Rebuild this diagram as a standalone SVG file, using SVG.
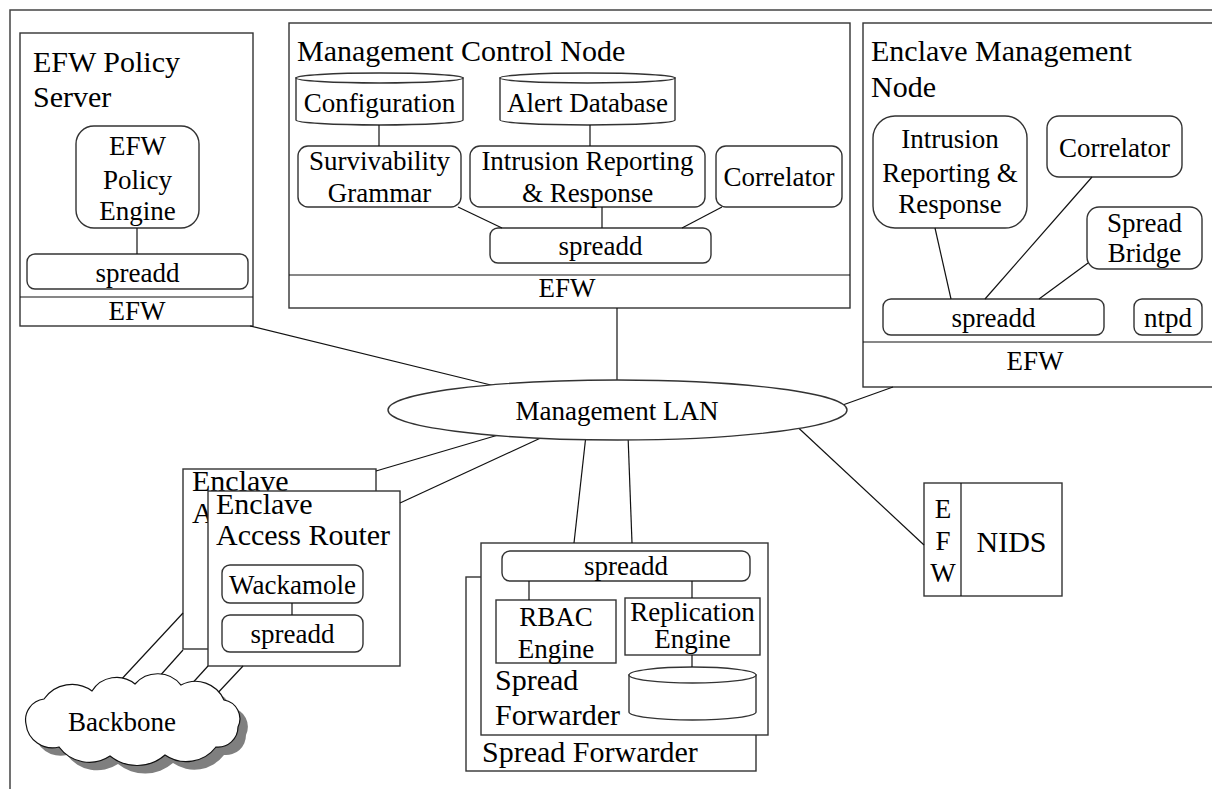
<svg xmlns="http://www.w3.org/2000/svg" width="1212" height="789" viewBox="0 0 1212 789" font-family="Liberation Serif, Times New Roman, serif">
<style>
.box{fill:#fff;stroke:#333;stroke-width:1.4}
.ln{stroke:#111;stroke-width:1.2;fill:none}
text{font-size:27px;fill:#000}
.tt{font-size:30px}
.c{text-anchor:middle}
</style>
<rect x="0" y="0" width="1212" height="789" fill="#fff"/>
<path d="M10,789 V10 H1212" fill="none" stroke="#444" stroke-width="1.5"/>

<g id="nodes">
<g id="efw-policy-server">
<rect class="box" x="20" y="33" width="233" height="293"/>
<line class="ln" x1="20" y1="297" x2="253" y2="297"/>
<text class="tt" x="33" y="72">EFW Policy</text>
<text class="tt" x="33" y="107">Server</text>
<text class="c" x="137" y="320">EFW</text>
</g>
<g id="efw-policy-engine">
<rect class="box" x="76" y="126" width="123" height="102" rx="18"/>
<text class="c" x="137.5" y="155">EFW</text>
<text class="c" x="137.5" y="189">Policy</text>
<text class="c" x="137.5" y="220">Engine</text>
</g>
<g id="eps-spreadd">
<rect class="box" x="27" y="254" width="221" height="35" rx="8"/>
<text class="c" x="137.5" y="282">spreadd</text>
</g>

<g id="management-control-node">
<rect class="box" x="289" y="23" width="561" height="285"/>
<line class="ln" x1="289" y1="275" x2="850" y2="275"/>
<text class="tt" x="297" y="61">Management Control Node</text>
<text class="c" x="567" y="297">EFW</text>
</g>
<g id="configuration">
<path class="box" d="M296,78 V120 A83.5,5 0 0 0 463,120 V78 Z"/>
<ellipse class="box" cx="379.5" cy="78" rx="83.5" ry="5"/>
<text class="c" x="379.5" y="112">Configuration</text>
</g>
<g id="alert-database">
<path class="box" d="M500,78 V120 A87.5,5 0 0 0 675,120 V78 Z"/>
<ellipse class="box" cx="587.5" cy="78" rx="87.5" ry="5"/>
<text class="c" x="587.5" y="112">Alert Database</text>
</g>
<g id="survivability-grammar">
<rect class="box" x="298" y="146" width="163" height="61" rx="10"/>
<text class="c" x="379.5" y="170">Survivability</text>
<text class="c" x="379.5" y="202">Grammar</text>
</g>
<g id="mcn-intrusion-reporting">
<rect class="box" x="470" y="146" width="235" height="61" rx="10"/>
<text class="c" x="587.5" y="170">Intrusion Reporting</text>
<text class="c" x="587.5" y="202">&amp; Response</text>
</g>
<g id="mcn-correlator">
<rect class="box" x="716" y="146" width="126" height="61" rx="10"/>
<text class="c" x="779" y="186">Correlator</text>
</g>
<g id="mcn-spreadd">
<rect class="box" x="490" y="228" width="221" height="35" rx="8"/>
<text class="c" x="600.5" y="255">spreadd</text>
</g>

<g id="enclave-management-node">
<rect class="box" x="863" y="23" width="360" height="364"/>
<line class="ln" x1="863" y1="342" x2="1212" y2="342"/>
<text class="tt" x="871" y="61">Enclave Management</text>
<text class="tt" x="871" y="97">Node</text>
<text class="c" x="1035" y="370">EFW</text>
</g>
<g id="emn-intrusion-reporting">
<rect class="box" x="873" y="116" width="154" height="112" rx="22"/>
<text class="c" x="950" y="148">Intrusion</text>
<text class="c" x="950" y="182">Reporting &amp;</text>
<text class="c" x="950" y="213">Response</text>
</g>
<g id="emn-correlator">
<rect class="box" x="1047" y="116" width="135" height="61" rx="12"/>
<text class="c" x="1114.5" y="157">Correlator</text>
</g>
<g id="spread-bridge">
<rect class="box" x="1087" y="207" width="115" height="62" rx="12"/>
<text class="c" x="1144.5" y="232">Spread</text>
<text class="c" x="1144.5" y="262">Bridge</text>
</g>
<g id="emn-spreadd">
<rect class="box" x="883" y="299" width="221" height="36" rx="8"/>
<text class="c" x="993.5" y="327">spreadd</text>
</g>
<g id="ntpd">
<rect class="box" x="1134" y="299" width="68" height="36" rx="8"/>
<text class="c" x="1168" y="327">ntpd</text>
</g>

<g id="enclave-access-router-back">
<rect class="box" x="183" y="469" width="193" height="180"/>
<text class="tt" x="192" y="491">Enclave</text>
<text class="tt" x="192" y="523">A</text>
</g>
<g id="enclave-access-router">
<rect class="box" x="208" y="491" width="192" height="175"/>
<text class="tt" x="216" y="514">Enclave</text>
<text class="tt" x="216" y="545">Access Router</text>
</g>
<g id="wackamole">
<rect class="box" x="222" y="565" width="141" height="38" rx="8"/>
<text class="c" x="292.5" y="594">Wackamole</text>
</g>
<g id="router-spreadd">
<rect class="box" x="222" y="615" width="141" height="37" rx="8"/>
<text class="c" x="292.5" y="643">spreadd</text>
</g>

<g id="spread-forwarder-back">
<rect class="box" x="466" y="577" width="290" height="194"/>
<text class="tt" x="482" y="762">Spread Forwarder</text>
</g>
<g id="spread-forwarder">
<rect class="box" x="481" y="543" width="287" height="192"/>
<text class="tt" x="495" y="690">Spread</text>
<text class="tt" x="495" y="725">Forwarder</text>
</g>
<g id="forwarder-spreadd">
<rect class="box" x="502" y="551" width="248" height="30" rx="8"/>
<text class="c" x="626" y="575">spreadd</text>
</g>
<g id="rbac-engine">
<rect class="box" x="496" y="600" width="120" height="63"/>
<text class="c" x="556" y="626">RBAC</text>
<text class="c" x="556" y="658">Engine</text>
</g>
<g id="replication-engine">
<rect class="box" x="625" y="598" width="135" height="57"/>
<text class="c" x="692.5" y="621">Replication</text>
<text class="c" x="692.5" y="648">Engine</text>
</g>
<g id="replication-db">
<path class="box" d="M629,675 V712 A63.5,8 0 0 0 756,712 V675 Z"/>
<ellipse class="box" cx="692.5" cy="675" rx="63.5" ry="8"/>
</g>

<g id="nids">
<rect class="box" x="924" y="483" width="138" height="113"/>
<line class="ln" x1="961" y1="483" x2="961" y2="596"/>
<text class="c" x="943" y="518">E</text>
<text class="c" x="943" y="550">F</text>
<text class="c" x="943" y="582">W</text>
<text class="tt c" x="1011.5" y="552">NIDS</text>
</g>
</g>

<g id="connectors" class="ln">
<line x1="137" y1="228" x2="137" y2="254"/>
<line x1="379" y1="125" x2="379" y2="146"/>
<line x1="590" y1="125" x2="590" y2="146"/>
<line x1="458" y1="207" x2="502" y2="228"/>
<line x1="602" y1="207" x2="602" y2="228"/>
<line x1="722" y1="207" x2="682" y2="228"/>
<line x1="935" y1="228" x2="951" y2="299"/>
<line x1="1092" y1="177" x2="985" y2="299"/>
<line x1="1088" y1="263" x2="1039" y2="299"/>
<line x1="292" y1="603" x2="292" y2="615"/>
<line x1="529" y1="581" x2="529" y2="600"/>
<line x1="692" y1="581" x2="692" y2="598"/>
<line x1="692" y1="655" x2="692" y2="667"/>
<line x1="250" y1="326" x2="495" y2="386"/>
<line x1="617" y1="308" x2="617" y2="385"/>
<line x1="893" y1="387" x2="840" y2="406"/>
<line x1="924" y1="545" x2="790" y2="420"/>
<line x1="376" y1="471" x2="505" y2="433"/>
<line x1="400" y1="503" x2="545" y2="436"/>
<line x1="574" y1="543" x2="586" y2="435"/>
<line x1="632" y1="543" x2="628" y2="435"/>
<line x1="183" y1="613" x2="118" y2="683"/>
<line x1="183" y1="650" x2="158" y2="678"/>
<line x1="208" y1="666" x2="188" y2="688"/>
<line x1="243" y1="666" x2="214" y2="697"/>
</g>

<g id="management-lan">
<ellipse class="box" cx="617.5" cy="410" rx="229.5" ry="30"/>
<text class="c" x="617" y="420">Management LAN</text>
</g>

<g id="backbone">
<defs>
<path id="cloud" d="M26,724 A21,21 0 0 1 44,699 A34,34 0 0 1 92,691 A29,29 0 0 1 135,684 A30,30 0 0 1 181,685 A31,31 0 0 1 224,700 A19,19 0 0 1 238,727 A20,20 0 0 1 216,747 A37.5,37.5 0 0 1 165,755 A42.8,42.8 0 0 1 110,756 A37.5,37.5 0 0 1 59,747 A26.7,26.7 0 0 1 26,724 Z"/>
</defs>
<use href="#cloud" transform="translate(8,8)" fill="#7f7f7f"/>
<use href="#cloud" fill="#fff" stroke="#111" stroke-width="1.2"/>
<text class="c" x="122" y="731">Backbone</text>
</g>
</svg>
